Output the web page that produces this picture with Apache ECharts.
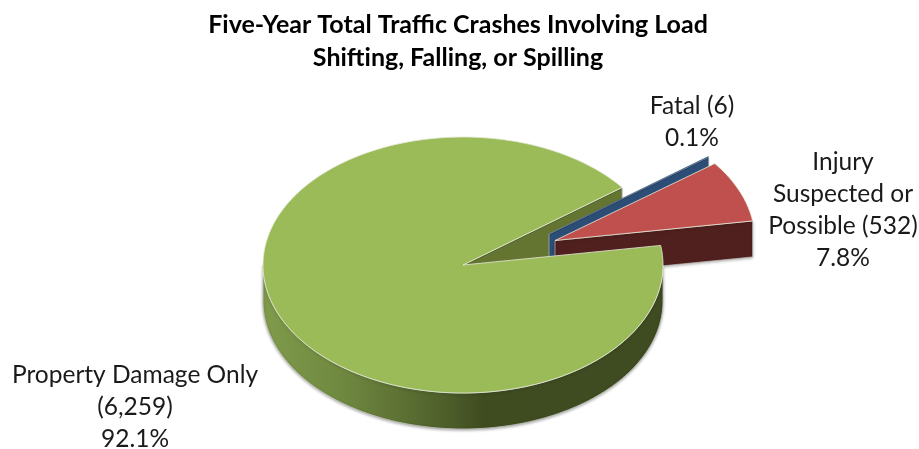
<!DOCTYPE html>
<html>
<head>
<meta charset="utf-8">
<title>Five-Year Total Traffic Crashes</title>
<script src="https://cdn.jsdelivr.net/npm/echarts@6/dist/echarts.min.js"></script>
<style>
  html, body { margin: 0; padding: 0; background: #fff; }
  #chart { width: 919px; height: 449px; }
</style>
</head>
<body>
<div id="chart"></div>
<script>
const titleText = "Five-Year Total Traffic Crashes Involving Load\nShifting, Falling, or Spilling";
// clockwise from the cut on the right of the main slice
const categories = ["Property Damage Only", "Fatal", "Injury Suspected or Possible"];
const labelNames = ["Property Damage Only\n", "Fatal ", "Injury\nSuspected or\nPossible "];
const crashCounts = [6259, 6, 532];
const percentLabels = ["92.1%", "0.1%", "7.8%"];

// fake 3D pie: ellipse plus a fixed extrusion
const CX = 463, CY = 265, RX = 200, RY = 128, DEPTH = 36;
const START_DEG = 81.2;
const offsets = [[0, 0], [86, -31], [92, -24.5]];
const topColors = ["#9bbb59", "#2c4d75", "#c0504d"];
const wallColors = ["#647532", "#2c4d75", "#4f201d"];
const labelPos = [[135, 375], [692, 106], [843, 162]];
const FONT = "Lato, Carlito, sans-serif";

const total = crashCounts.reduce((a, b) => a + b, 0);

function pt(deg, ox, oy, down) {
  const r = deg * Math.PI / 180;
  return [CX + ox + RX * Math.sin(r), CY + oy - RY * Math.cos(r) + (down || 0)];
}

function arc(from, to, ox, oy, down) {
  const pts = [];
  const n = Math.max(2, Math.ceil(Math.abs(to - from) / 1.5));
  for (let i = 0; i <= n; i++) {
    pts.push(pt(from + (to - from) * i / n, ox, oy, down));
  }
  return pts;
}

function renderSlice(params, api) {
  const i = params.dataIndex;
  let before = 0;
  for (let k = 0; k < i; k++) before += crashCounts[k];
  const from = START_DEG + before / total * 360;
  const to = from + api.value(1) / total * 360;
  const ox = offsets[i][0], oy = offsets[i][1];
  const apex = [CX + ox, CY + oy];
  const children = [];
  // main slice sits in front of the exploded ones, except its inner wall
  const base = i === 0 ? 40 : 10 + i * 5;

  // cut wall on the clockwise edge, this is the one facing the viewer
  const e = pt(to, ox, oy);
  children.push({
    type: "polygon", z2: i === 0 ? 1 : base,
    shape: { points: [apex, e, [e[0], e[1] + DEPTH], [apex[0], apex[1] + DEPTH]] },
    style: {
      fill: wallColors[i], stroke: "#d9d9d9", lineWidth: 0.6,
      shadowBlur: i === 2 ? 3 : 0, shadowColor: "rgba(0,0,0,0.3)", shadowOffsetY: 1
    }
  });

  if (i === 0) {
    const rim = arc(90, 270, ox, oy).concat(arc(270, 90, ox, oy, DEPTH));
    children.push({
      type: "polygon", z2: base,
      shape: { points: rim },
      style: {
        fill: {
          type: "linear", x: 0, y: 0, x2: 1, y2: 0,
          colorStops: [
            { offset: 0, color: "#7f9b4a" },
            { offset: 0.2, color: "#6f8840" },
            { offset: 0.45, color: "#4f602b" },
            { offset: 0.55, color: "#3f4c20" },
            { offset: 1, color: "#3f4b21" }
          ]
        },
        stroke: "#c4c6c0", lineWidth: 0.8,
        shadowBlur: 3, shadowColor: "rgba(0,0,0,0.35)", shadowOffsetY: 1
      }
    });
  }

  children.push({
    type: "polygon", z2: base + 1,
    shape: { points: [apex].concat(arc(from, to, ox, oy)) },
    style: { fill: topColors[i], stroke: i === 1 ? topColors[1] : "#e6ead9", lineWidth: i === 1 ? 0.3 : 0.8 }
  });

  children.push({
    type: "text", z2: 60,
    style: {
      x: labelPos[i][0], y: labelPos[i][1] - 16,
      text: labelNames[i] + "(" + api.value(1).toLocaleString("en-US") + ")\n" + percentLabels[i],
      fill: "#1a1a1a", font: "24.5px " + FONT, align: "center", verticalAlign: "top", lineHeight: 32
    }
  });
  return { type: "group", children: children };
}

const chart = echarts.init(document.getElementById("chart"), null, { renderer: "canvas" });
chart.setOption({
  animation: false,
  backgroundColor: "#ffffff",
  title: {
    text: titleText,
    left: 453, top: 3, textAlign: "center",
    textStyle: { fontFamily: FONT, fontSize: 25, fontWeight: "bold", color: "#000", lineHeight: 33 }
  },
  series: [{
    type: "custom",
    coordinateSystem: "none",
    renderItem: renderSlice,
    data: categories.map((c, i) => [c, crashCounts[i]]),
    encode: { itemName: 0, value: 1 },
    silent: true
  }]
});
</script>
</body>
</html>
